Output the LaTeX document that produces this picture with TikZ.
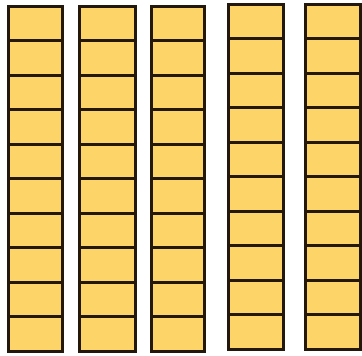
\documentclass[tikz,border=0pt]{standalone}
\usepackage{xcolor}
\usepackage{tikz}
\definecolor{tenfill}{HTML}{FDD468}
\definecolor{tenline}{HTML}{24180C}

\begin{document}
\begin{tikzpicture}[
    x=1pt, y=-1pt,
    cell/.style={rectangle, fill=tenfill, outer sep=0pt, inner sep=0pt,
                 minimum width=#1, minimum height=34.55pt, anchor=north west},
    edge/.style={draw=tenline, line width=3pt, line join=miter}
]
\useasboundingbox (0,0) rectangle (362,356);
% Columns of ten
\foreach \col/\x/\y/\w in {1/8/6/54, 2/79/6/56, 3/151/6/53, 4/228/4/55, 5/305/4/55} {
  \foreach \row in {1,...,10} {
    \node[cell=\w pt] (c\col-\row) at (\x, {\y + (\row-1)*34.55}) {};
  }
}
% Outlines on top
\foreach \col in {1,...,5} {
  \foreach \row in {1,...,10} {
    \draw[edge] (c\col-\row.north west) rectangle (c\col-\row.south east);
  }
}
\end{tikzpicture}
\end{document}
